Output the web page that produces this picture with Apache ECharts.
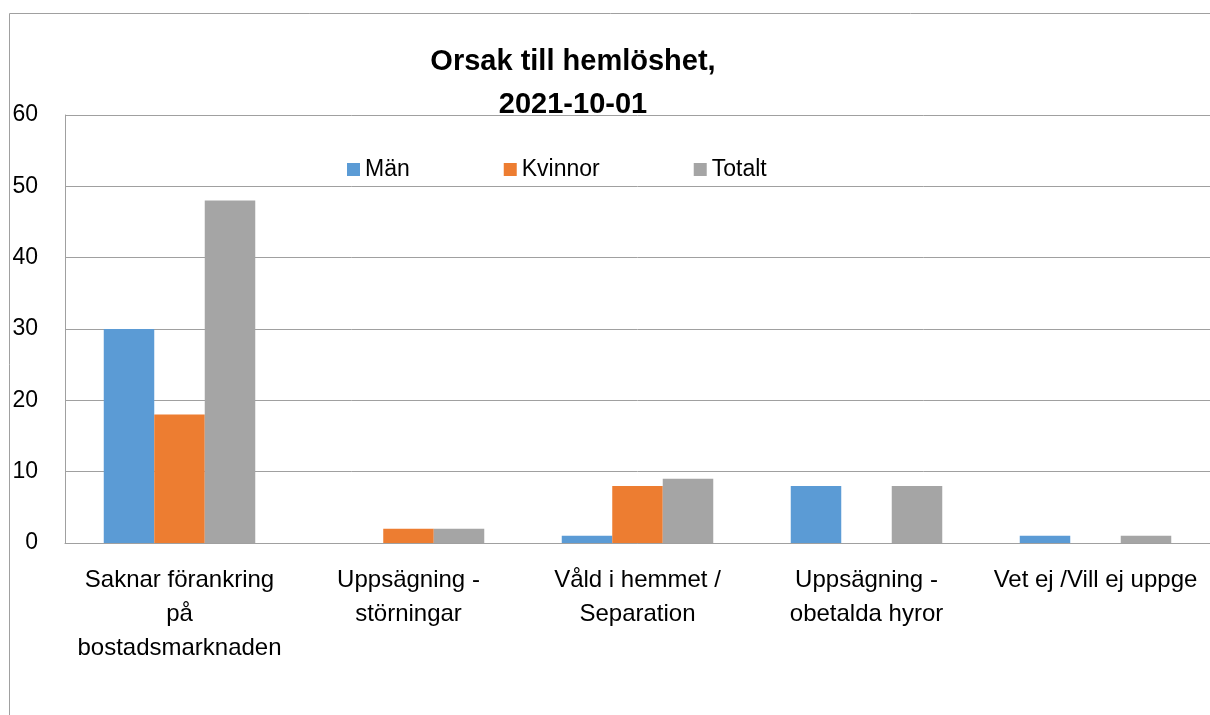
<!DOCTYPE html>
<html>
<head>
<meta charset="utf-8">
<script src="https://cdn.jsdelivr.net/npm/echarts@6/dist/echarts.min.js"></script>
<style>
html,body{margin:0;padding:0;background:#fff;}
#chart{width:1210px;height:715px;}
</style>
</head>
<body>
<div id="chart"></div>
<script>
const categories = [
  "Saknar förankring\npå\nbostadsmarknaden",
  "Uppsägning -\nstörningar",
  "Våld i hemmet /\nSeparation",
  "Uppsägning -\nobetalda hyror",
  "Vet ej /Vill ej uppge"
];
const seriesNames = ["Män", "Kvinnor", "Totalt"];
const man = [30, 0, 1, 8, 1];
const kvinnor = [18, 2, 8, 0, 0];
const totalt = [48, 2, 9, 8, 1];
const yTicks = [0, 10, 20, 30, 40, 50, 60];

const colors = ["#5B9BD5", "#ED7D31", "#A5A5A5"];
const font = "'Liberation Sans', Arial, sans-serif";

const chart = echarts.init(document.getElementById('chart'));
chart.setOption({
  animation: false,
  color: colors,
  title: {
    text: "Orsak till hemlöshet,\n2021-10-01",
    left: 568,
    top: 35,
    textAlign: 'center',
    textStyle: {fontFamily: font, fontSize: 29, fontWeight: 'bold', color: '#000', lineHeight: 43}
  },
  graphic: [{
    type: 'rect',
    shape: {x: 9.5, y: 13.5, width: 1400, height: 900},
    style: {fill: 'none', stroke: '#a0a0a0', lineWidth: 1},
    silent: true,
    z: -1
  }],
  legend: {
    data: seriesNames,
    left: 342,
    top: 153,
    icon: 'rect',
    itemWidth: 13,
    itemHeight: 13,
    itemGap: 94,
    textStyle: {fontFamily: font, fontSize: 23, color: '#000'}
  },
  grid: {left: 65, right: -2, top: 115, bottom: 172, containLabel: false},
  xAxis: {
    type: 'category',
    data: categories,
    axisLine: {show: true, lineStyle: {color: '#a0a0a0', width: 1}},
    axisTick: {show: false},
    axisLabel: {interval: 0, margin: 20, fontFamily: font, fontSize: 24, color: '#000', lineHeight: 34, align: 'center'}
  },
  yAxis: {
    type: 'value',
    min: yTicks[0],
    max: yTicks[yTicks.length - 1],
    interval: 10,
    axisLine: {show: true, lineStyle: {color: '#a0a0a0', width: 1}},
    axisTick: {show: false},
    axisLabel: {margin: 27, fontFamily: font, fontSize: 23, color: '#000'},
    splitLine: {show: true, lineStyle: {color: '#a0a0a0', width: 1}}
  },
  series: [
    {name: seriesNames[0], type: 'bar', data: man, barWidth: 50.5, barGap: '0%'},
    {name: seriesNames[1], type: 'bar', data: kvinnor, barWidth: 50.5, barGap: '0%'},
    {name: seriesNames[2], type: 'bar', data: totalt, barWidth: 50.5, barGap: '0%'}
  ]
});
</script>
</body>
</html>
